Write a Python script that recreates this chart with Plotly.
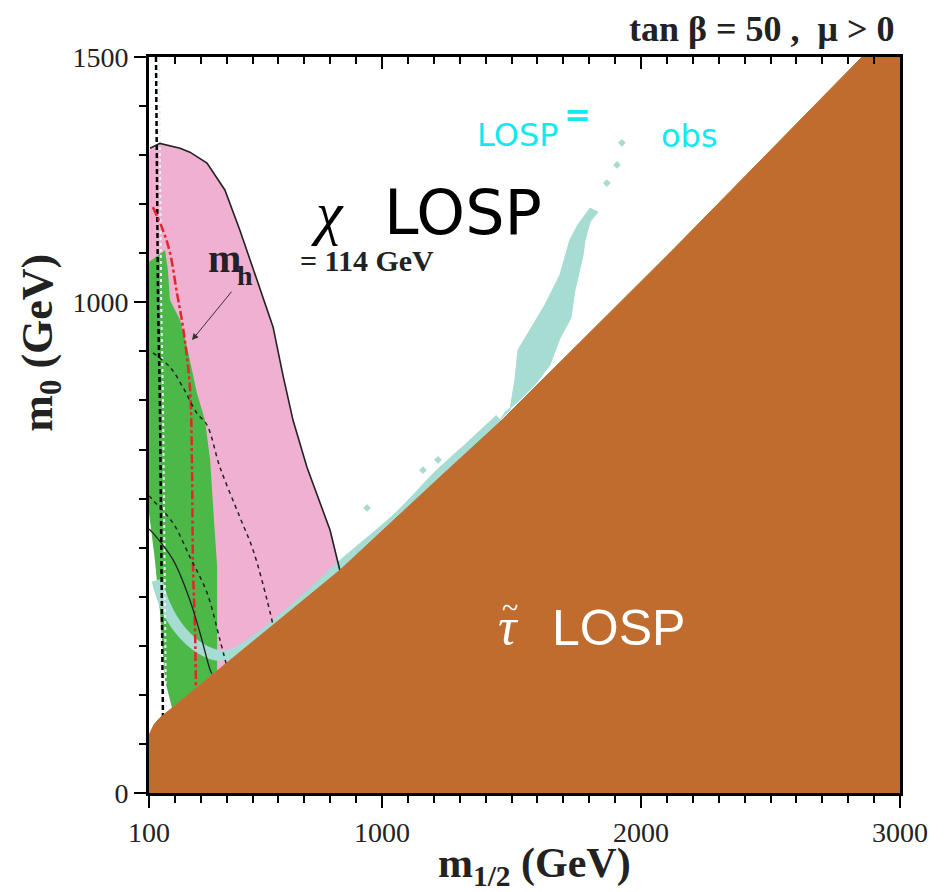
import plotly.graph_objects as go

# ---------------- data (m_1/2, m_0 in GeV) ----------------
# stau-LOSP (brown) region boundary
stau_m12 = [100, 120, 142, 400, 837, 1224, 1455, 2123, 2853, 3000, 3000, 100]
stau_m0 = [118, 140, 153, 265, 454, 644, 756, 1107, 1500, 1500, 0, 0]

# pink region (solid black contour + fill)
pink_m12 = [100, 104, 142, 220, 258, 324, 393, 451, 517, 579, 617, 656, 710, 799, 837]
pink_m0 = [1300, 1314, 1324, 1314, 1306, 1284, 1229, 1147, 1045, 950, 852, 760, 664, 536, 454]
pink_low_m12 = [837, 189, 189, 162, 142, 123, 100]
pink_low_m0 = [0, 0, 173, 230, 373, 475, 597]

# green region
green_m12 = [100, 135, 162, 173, 181, 220, 247, 285, 316, 336, 351, 363, 363,
             189, 162, 142, 123, 100, 100]
green_m0 = [1082, 1096, 1106, 1066, 1005, 964, 909, 815, 760, 679, 556, 461, 249,
            173, 230, 373, 475, 570, 1082]

# light-teal relic-density band
band_m12 = [131, 162, 220, 297, 374, 432, 529, 683, 837, 1069, 1224, 1339, 1455]
band_m0 = [434, 383, 332, 295, 280, 285, 318, 385, 460, 565, 650, 705, 762]

# light-teal funnel blob
blob_m12 = [1834, 1803, 1784, 1776, 1745, 1729, 1687, 1648, 1590, 1532, 1475, 1455,
            1494, 1513, 1525, 1571, 1629, 1687, 1725, 1756, 1803, 1834]
blob_m0 = [1184, 1164, 1127, 1096, 1025, 968, 927, 872, 832, 801, 776, 760,
           781, 842, 903, 944, 995, 1056, 1127, 1158, 1192, 1184]
speck_m12 = [1868, 1907, 1926, 942, 1158, 1216]
speck_m0 = [1243, 1280, 1325, 581, 658, 679]

# black dashed near-vertical line
vdash_m12 = [127, 135, 142, 154]
vdash_m0 = [1500, 1000, 801, 149]

# red dash-dot line
red_m12 = [115, 154, 181, 208, 231, 258, 266, 270, 278, 281]
red_m0 = [1194, 1147, 1101, 1019, 950, 827, 664, 461, 326, 216]

# black dashed curves
dash1_m12 = [115, 181, 231, 285, 324, 374, 451, 502, 556, 579]
dash1_m0 = [897, 868, 827, 774, 750, 664, 562, 495, 393, 342]
dash2_m12 = [100, 115, 193, 258, 324, 374, 401]
dash2_m0 = [606, 597, 550, 481, 408, 312, 257]

# thin solid curve
solid_m12 = [100, 115, 193, 258, 297, 336, 343]
solid_m0 = [538, 530, 475, 393, 326, 251, 243]

# axis ticks
x_tickvals = [100, 1000, 2000, 3000]
x_ticktext = ["100", "1000", "2000", "3000"]
y_tickvals = [0, 1000, 1500]
y_ticktext = ["0", "1000", "1500"]

BROWN = "#c06c2e"
PINK = "#f0b0d2"
GREEN = "#4cb848"
TEAL = "#a6dcd2"
CYAN = "#12e8f0"
RED = "#e3262b"

fig = go.Figure()

# pink fill
fig.add_trace(go.Scatter(x=pink_m12 + pink_low_m12, y=pink_m0 + pink_low_m0,
                         fill="toself", fillcolor=PINK, mode="none",
                         hoverinfo="skip", showlegend=False))
# green fill
fig.add_trace(go.Scatter(x=green_m12, y=green_m0, fill="toself", fillcolor=GREEN,
                         mode="none", hoverinfo="skip", showlegend=False))
# teal band
fig.add_trace(go.Scatter(x=band_m12, y=band_m0, mode="lines",
                         line=dict(color=TEAL, width=11, shape="spline"),
                         hoverinfo="skip", showlegend=False))
# teal blob
fig.add_trace(go.Scatter(x=blob_m12, y=blob_m0, fill="toself", fillcolor=TEAL,
                         mode="lines", line=dict(color=TEAL, width=1),
                         hoverinfo="skip", showlegend=False))
fig.add_trace(go.Scatter(x=speck_m12, y=speck_m0, mode="markers",
                         marker=dict(color=TEAL, size=6, symbol="diamond"),
                         hoverinfo="skip", showlegend=False))

# lines
fig.add_trace(go.Scatter(x=[v + 12 for v in vdash_m12], y=vdash_m0, mode="lines",
                         line=dict(color="#e4f4f2", width=2, dash="3px,3px"),
                         hoverinfo="skip", showlegend=False))
fig.add_trace(go.Scatter(x=vdash_m12, y=vdash_m0, mode="lines",
                         line=dict(color="black", width=2.5, dash="5px,3px"),
                         hoverinfo="skip", showlegend=False))
fig.add_trace(go.Scatter(x=red_m12, y=red_m0, mode="lines",
                         line=dict(color=RED, width=2.5, dash="dashdot", shape="spline"),
                         hoverinfo="skip", showlegend=False))
fig.add_trace(go.Scatter(x=dash1_m12, y=dash1_m0, mode="lines",
                         line=dict(color="#222", width=1.5, dash="4px,4px", shape="spline"),
                         hoverinfo="skip", showlegend=False))
fig.add_trace(go.Scatter(x=dash2_m12, y=dash2_m0, mode="lines",
                         line=dict(color="#222", width=1.5, dash="4px,4px", shape="spline"),
                         hoverinfo="skip", showlegend=False))
fig.add_trace(go.Scatter(x=solid_m12, y=solid_m0, mode="lines",
                         line=dict(color="#222", width=1.3, shape="spline"),
                         hoverinfo="skip", showlegend=False))
fig.add_trace(go.Scatter(x=pink_m12[1:], y=pink_m0[1:], mode="lines",
                         line=dict(color="#222", width=1.6),
                         hoverinfo="skip", showlegend=False))

# brown stau region on top
fig.add_trace(go.Scatter(x=stau_m12, y=stau_m0, fill="toself", fillcolor=BROWN,
                         mode="lines", line=dict(color=BROWN, width=1),
                         hoverinfo="skip", showlegend=False))

# dummy trace for top axis
fig.add_trace(go.Scatter(x=[None], y=[None], xaxis="x2", showlegend=False,
                         hoverinfo="skip"))

serif = "Liberation Serif, Times New Roman, serif"
comic = "Comic Sans MS, DejaVu Sans, sans-serif"

ann = []
# arrow to m_h line
ann.append(dict(x=266, y=923, ax=424, ay=1025, xref="x", yref="y", axref="x", ayref="y",
                text="", showarrow=True, arrowhead=2, arrowsize=1.3, arrowwidth=1,
                arrowcolor="#333"))
ann.append(dict(x=390, y=1090, xref="x", yref="y", text="<b>m</b>", showarrow=False,
                font=dict(family=serif, size=40, color="#222")))
ann.append(dict(x=471, y=1054, xref="x", yref="y", text="<b>h</b>", showarrow=False,
                font=dict(family=serif, size=28, color="#222")))
ann.append(dict(x=676, y=1086, xref="x", yref="y", text="<b>= 114 GeV</b>", showarrow=False,
                xanchor="left", font=dict(family=serif, size=30, color="#222")))
# chi LOSP
ann.append(dict(x=791, y=1182, xref="x", yref="y", text="<i>χ</i>", showarrow=False,
                font=dict(family=serif, size=60, color="black")))
ann.append(dict(x=1000, y=1184, xref="x", yref="y", text="LOSP", showarrow=False,
                xanchor="left", font=dict(family=comic, size=62, color="black")))
# stau LOSP
ann.append(dict(x=1488, y=340, xref="x", yref="y", text="<i>τ</i>", showarrow=False,
                font=dict(family=serif, size=52, color="white")))
ann.append(dict(x=1494, y=378, xref="x", yref="y", text="~", showarrow=False,
                font=dict(family=serif, size=30, color="white")))
ann.append(dict(x=1648, y=336, xref="x", yref="y", text="LOSP", showarrow=False,
                xanchor="left", font=dict(family="Liberation Sans, Arial, sans-serif",
                                           size=50, color="white")))
# cyan Omega text
ann.append(dict(x=1359, y=1341, xref="x", yref="y", text="LOSP", showarrow=False,
                xanchor="left", font=dict(family=comic, size=32, color=CYAN)))
ann.append(dict(x=1753, y=1382, xref="x", yref="y", text="<b>=</b>", showarrow=False,
                font=dict(family="DejaVu Sans", size=32, color=CYAN)))
ann.append(dict(x=2070, y=1338, xref="x", yref="y", text="obs", showarrow=False,
                xanchor="left", font=dict(family=comic, size=32, color=CYAN)))
# title
ann.append(dict(x=0.9947, y=1.038, xref="paper", yref="paper", xanchor="right",
                yanchor="middle", text="<b>tan β = 50 ,&nbsp; μ > 0</b>", showarrow=False,
                font=dict(family=serif, size=36, color="#222")))
# axis titles
ann.append(dict(x=0.513, y=-0.099, xref="paper", yref="paper", xanchor="center",
                yanchor="middle", text="<b>m<sub>1/2</sub> (GeV)</b>", showarrow=False,
                font=dict(family=serif, size=42, color="#222")))
ann.append(dict(x=-0.145, y=0.612, xref="paper", yref="paper", xanchor="center",
                yanchor="middle", text="<b>m<sub>0</sub> (GeV)</b>", showarrow=False,
                textangle=-90, font=dict(family=serif, size=44, color="#222")))

fig.update_layout(
    width=946, height=892,
    margin=dict(l=141, r=54, t=49, b=107),
    paper_bgcolor="white", plot_bgcolor="white",
    showlegend=False,
    annotations=ann,
    xaxis=dict(range=[100, 3000], tickmode="array", tickvals=x_tickvals,
               ticktext=x_ticktext, ticks="outside", ticklen=12, tickwidth=2,
               tickcolor="black", showline=True, linewidth=3, linecolor="black",
               mirror=True, showgrid=False, zeroline=False,
               minor=dict(tickmode="linear", tick0=0, dtick=100, ticklen=7,
                          tickwidth=1.5, tickcolor="black", ticks="outside", showgrid=False),
               tickfont=dict(family=serif, size=28, color="#222")),
    xaxis2=dict(range=[100, 3000], overlaying="x", side="top", tickmode="array",
                tickvals=[1000, 2000], ticks="inside", ticklen=12, tickwidth=2,
                tickcolor="black", showticklabels=False, showline=False,
                showgrid=False, zeroline=False,
                minor=dict(tickmode="linear", tick0=0, dtick=100, ticklen=7,
                           tickwidth=1.5, tickcolor="black", ticks="inside", showgrid=False)),
    yaxis=dict(range=[0, 1500], tickmode="array", tickvals=y_tickvals,
               ticktext=y_ticktext, ticks="outside", ticklen=12, tickwidth=2,
               tickcolor="black", showline=True, linewidth=3, linecolor="black",
               mirror=True, showgrid=False, zeroline=False,
               minor=dict(tickmode="linear", tick0=0, dtick=100, ticklen=7,
                          tickwidth=1.5, tickcolor="black", ticks="outside", showgrid=False),
               tickfont=dict(family=serif, size=28, color="#222")),
)

fig.write_html("out.html")
